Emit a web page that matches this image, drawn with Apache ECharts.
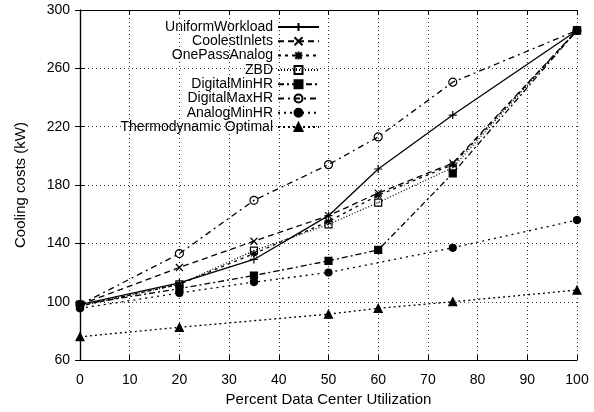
<!DOCTYPE html>
<html>
<head>
<meta charset="utf-8">
<script src="https://cdn.jsdelivr.net/npm/echarts@6/dist/echarts.min.js"></script>
<style>
  html, body { margin: 0; padding: 0; background: #fff; }
  #main { width: 594px; height: 412px; }
</style>
</head>
<body>
<div id="main"></div>
<script>
// x positions (percent utilization)
var utilX = [0, 20, 35, 50, 60, 75, 100];
var uniformWorkload = [98, 113, 129, 159, 191, 228, 286];
var coolestInlets   = [98, 123.5, 141.5, 159, 174.5, 195, 286];
var onePassAnalog   = [97, 112, 133, 155, 173, 194, 286];
var zbd             = [97, 112, 135, 153, 168, 192, 286];
var digitalMinHR    = [98, 109, 118, 128, 135.5, 188, 286];
var digitalMaxHR    = [98, 133, 169.5, 194, 213, 250.5, 286];

var analogX = [0, 20, 35, 50, 75, 100];
var analogMinHR = [95.5, 106, 113.5, 120, 137, 156];

var thermoX = [0, 20, 50, 60, 75, 100];
var thermoOptimal = [76, 82.5, 91.5, 95.5, 100, 108];

function pairs(xs, ys) {
  return xs.map(function (x, i) { return [x, ys[i]]; });
}

var FONT = 'Liberation Sans';
var symPlus = 'path://M0,5 L10,5 M5,0 L5,10';
var symX = 'path://M0,0 L10,10 M0,10 L10,0';
var symStar = 'path://M0,5 L10,5 M5,0 L5,10 M1,1 L9,9 M1,9 L9,1';

function mk(name, data, dash, symbol, size, filled) {
  return {
    name: name,
    type: 'line',
    data: data,
    symbol: symbol,
    symbolSize: size,
    showAllSymbol: true,
    lineStyle: { color: '#000', width: 1.3, type: dash },
    itemStyle: {
      color: filled ? '#000' : 'rgba(0,0,0,0)',
      borderColor: '#000',
      borderWidth: 1.2
    },
    emphasis: { disabled: true },
    animation: false
  };
}

var chart = echarts.init(document.getElementById('main'));
chart.setOption({
  backgroundColor: '#fff',
  animation: false,
  textStyle: { fontFamily: FONT },
  grid: { left: 80, right: 17, top: 10, bottom: 44, show: false },
  legend: {
    orient: 'vertical',
    align: 'right',
    right: 274,
    top: 20,
    padding: 0,
    itemWidth: 41,
    itemHeight: 10,
    itemGap: 0.3,
    textStyle: { fontFamily: FONT, fontSize: 14, lineHeight: 12, color: '#000' },
    data: ['UniformWorkload', 'CoolestInlets', 'OnePassAnalog', 'ZBD',
           'DigitalMinHR', 'DigitalMaxHR', 'AnalogMinHR', 'Thermodynamic Optimal']
  },
  xAxis: [{
    type: 'value', min: 0, max: 100, interval: 10,
    name: 'Percent Data Center Utilization', nameLocation: 'middle', nameGap: 30,
    nameTextStyle: { fontFamily: FONT, fontSize: 15, color: '#000' },
    axisLine: { show: true, lineStyle: { color: '#000', width: 1.2 } },
    axisTick: { show: true, inside: true, length: 5, lineStyle: { color: '#000' } },
    axisLabel: { fontFamily: FONT, fontSize: 14, color: '#000', margin: 13 },
    splitLine: { show: true, lineStyle: { color: '#333', width: 1, type: [1, 3] } }
  }, {
    type: 'value', min: 0, max: 100, interval: 10, position: 'top',
    axisLine: { show: true, lineStyle: { color: '#000', width: 1.2 } },
    axisTick: { show: true, inside: true, length: 5, lineStyle: { color: '#000' } },
    axisLabel: { show: false },
    splitLine: { show: false }
  }],
  yAxis: [{
    type: 'value', min: 60, max: 300, interval: 40,
    name: 'Cooling costs (kW)', nameLocation: 'middle', nameGap: 52,
    nameTextStyle: { fontFamily: FONT, fontSize: 15, color: '#000' },
    axisLine: { show: true, lineStyle: { color: '#000', width: 1.2 } },
    axisTick: { show: true, inside: true, length: 5, lineStyle: { color: '#000' } },
    axisLabel: { fontFamily: FONT, fontSize: 14, color: '#000', margin: 10 },
    splitLine: { show: true, lineStyle: { color: '#333', width: 1, type: [1, 3] } }
  }, {
    type: 'value', min: 60, max: 300, interval: 40, position: 'right',
    axisLine: { show: true, lineStyle: { color: '#000', width: 1.2 } },
    axisTick: { show: true, inside: true, length: 5, lineStyle: { color: '#000' } },
    axisLabel: { show: false },
    splitLine: { show: false }
  }],
  series: [
    mk('UniformWorkload', pairs(utilX, uniformWorkload), 'solid', symPlus, 8, false),
    mk('CoolestInlets', pairs(utilX, coolestInlets), [6, 4], symX, 7, false),
    mk('OnePassAnalog', pairs(utilX, onePassAnalog), [3, 4], symStar, 7, false),
    mk('ZBD', pairs(utilX, zbd), [1, 2], 'rect', 7, false),
    mk('DigitalMinHR', pairs(utilX, digitalMinHR), [6, 3, 2, 3], 'rect', 7, true),
    mk('DigitalMaxHR', pairs(utilX, digitalMaxHR), [6, 4, 2, 4], 'circle', 8, false),
    mk('AnalogMinHR', pairs(analogX, analogMinHR), [2, 4], 'circle', 7, true),
    mk('Thermodynamic Optimal', pairs(thermoX, thermoOptimal), [2, 3], 'triangle', 8, true)
  ]
});
</script>
</body>
</html>
